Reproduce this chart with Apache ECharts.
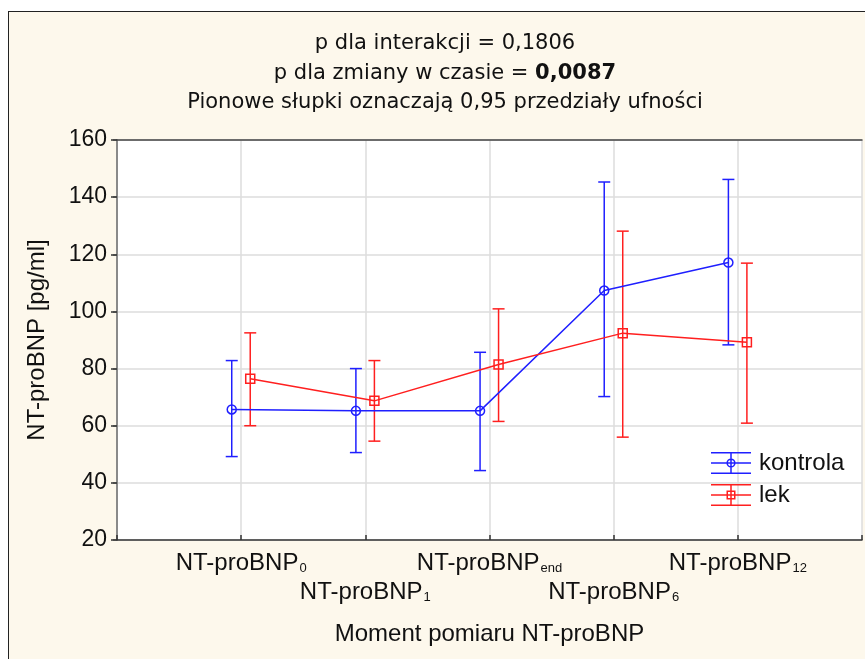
<!DOCTYPE html>
<html>
<head>
<meta charset="utf-8">
<script src="https://cdn.jsdelivr.net/npm/echarts@6/dist/echarts.min.js"></script>
<style>
  html, body { margin: 0; padding: 0; background: #fff; overflow: hidden; }
  .frame {
    position: absolute; left: 8px; top: 11px; width: 870px; height: 660px;
    border-left: 1.5px solid #222; border-top: 1.5px solid #222;
    background: #fdf8ec;
  }
  #chart { position: absolute; left: 0; top: 0; width: 865px; height: 659px; }
</style>
</head>
<body>
<div class="frame"></div>
<div id="chart"></div>
<script>
const subscripts = ['0', '1', 'end', '6', '12']
const kontrolaMean = [65.7, 65.2, 65.2, 107.3, 117.1]
const kontrolaLow = [49.2, 50.6, 44.3, 70.2, 88.3]
const kontrolaHigh = [82.8, 80.0, 85.7, 145.3, 146.2]
const lekMean = [76.4, 68.7, 81.4, 92.4, 89.2]
const lekLow = [60.0, 54.6, 61.5, 56.0, 60.9]
const lekHigh = [92.5, 82.8, 100.9, 128.1, 116.9]

const BLUE = '#1f1fff'
const RED = '#ff1f1f'
const FONT = '"Liberation Sans", Arial, sans-serif'

const chart = echarts.init(document.getElementById('chart'))

const errorBars = (name, low, high, offset, color) => ({
  name: name,
  type: 'custom',
  data: low.map((l, i) => [i + 1 + offset, l, high[i]]),
  encode: { x: 0, y: [1, 2] },
  silent: true,
  z: 3,
  renderItem: (params, api) => {
    const x = api.value(0)
    const lo = api.coord([x, api.value(1)])
    const hi = api.coord([x, api.value(2)])
    const w = 6
    const style = { stroke: color, lineWidth: 1.5, fill: null }
    return {
      type: 'group',
      children: [
        { type: 'line', shape: { x1: lo[0], y1: lo[1], x2: hi[0], y2: hi[1] }, style },
        { type: 'line', shape: { x1: hi[0] - w, y1: hi[1], x2: hi[0] + w, y2: hi[1] }, style },
        { type: 'line', shape: { x1: lo[0] - w, y1: lo[1], x2: lo[0] + w, y2: lo[1] }, style }
      ]
    }
  }
})

const meanLine = (name, mean, offset, color, symbol) => ({
  name: name,
  type: 'line',
  data: mean.map((v, i) => [i + 1 + offset, v]),
  symbol: symbol,
  symbolSize: 9,
  z: 4,
  lineStyle: { color: color, width: 1.5 },
  itemStyle: { color: 'rgba(0,0,0,0)', borderColor: color, borderWidth: 1.5 },
  emphasis: { disabled: true }
})

// legend icons: error bar with marker
const bars = 'M0,0 h40 v1.5 h-40 z M0,20.5 h40 v1.5 h-40 z M0,10.25 h40 v1.5 h-40 z M19.25,0 h1.5 v22 h-1.5 z '
const circleIcon = 'path://' + bars +
  'M24.6,11 A4.6,4.6 0 1 1 15.4,11 A4.6,4.6 0 1 1 24.6,11 Z M23.1,11 A3.1,3.1 0 1 0 16.9,11 A3.1,3.1 0 1 0 23.1,11 Z'
const squareIcon = 'path://' + bars +
  'M15.5,6.5 h9 v9 h-9 z M17,8 v6 h6 v-6 z'

chart.setOption({
  animation: false,
  textStyle: { fontFamily: FONT },
  title: {
    text: 'p dla interakcji = 0,1806\np dla zmiany w czasie = {b|0,0087}\nPionowe słupki oznaczają 0,95 przedziały ufności',
    left: 445,
    top: 29,
    padding: 0,
    textAlign: 'center',
    textStyle: {
      fontFamily: '"DejaVu Sans", sans-serif',
      fontSize: 21,
      fontWeight: 'normal',
      color: '#111',
      lineHeight: 29.5,
      rich: { b: { fontWeight: 'bold', fontFamily: '"DejaVu Sans", sans-serif', fontSize: 21, color: '#111' } }
    }
  },
  legend: {
    left: 706,
    top: 446,
    orient: 'vertical',
    itemWidth: 40,
    itemHeight: 22,
    itemGap: 8,
    selectedMode: false,
    textStyle: { fontFamily: FONT, fontSize: 24, color: '#111', padding: [0, 0, 0, 3] },
    data: [
      { name: 'kontrola', icon: circleIcon, itemStyle: { color: BLUE, borderWidth: 0 } },
      { name: 'lek', icon: squareIcon, itemStyle: { color: RED, borderWidth: 0 } }
    ]
  },
  grid: { left: 117, right: 1, top: 140, bottom: 119, show: true, backgroundColor: '#fff', borderWidth: 0 },
  xAxis: [{
    type: 'value',
    min: 0,
    max: 6,
    interval: 1,
    name: 'Moment pomiaru NT-proBNP',
    nameLocation: 'middle',
    nameGap: 82,
    nameTextStyle: { fontFamily: FONT, fontSize: 24, color: '#111' },
    axisLine: { lineStyle: { color: '#333', width: 1.5 } },
    axisTick: { inside: true, length: 5, lineStyle: { color: '#333', width: 1.5 } },
    splitLine: { show: true, lineStyle: { color: '#dcdcdc', width: 1.5 } },
    axisLabel: {
      margin: 9,
      showMinLabel: true,
      showMaxLabel: true,
      lineHeight: 29,
      fontSize: 24,
      formatter: (v) => {
        const i = Math.round(v) - 1
        if (i < 0 || i >= subscripts.length) return ''
        const txt = '{m|NT-proBNP}{s|' + subscripts[i] + '}'
        return i % 2 === 1 ? '{m|}\n' + txt : txt
      },
      rich: {
        m: { fontFamily: FONT, fontSize: 24, color: '#111', lineHeight: 29 },
        s: { fontFamily: FONT, fontSize: 13, color: '#111', lineHeight: 12, verticalAlign: 'bottom', padding: [0, 0, 3, 1] }
      }
    }
  }, {
    type: 'value',
    position: 'top',
    min: 0,
    max: 6,
    interval: 1,
    axisLine: { show: true, lineStyle: { color: '#444', width: 1.5 } },
    axisTick: { show: false },
    axisLabel: { show: false },
    splitLine: { show: false }
  }],
  yAxis: [{
    type: 'value',
    min: 20,
    max: 160,
    interval: 20,
    name: 'NT-proBNP [pg/ml]',
    nameLocation: 'middle',
    nameGap: 68,
    nameTextStyle: { fontFamily: FONT, fontSize: 24, color: '#111' },
    axisLine: { show: true, lineStyle: { color: '#333', width: 1.5 } },
    axisTick: { show: true, length: 6, lineStyle: { color: '#333', width: 1.5 } },
    axisLabel: { fontFamily: FONT, fontSize: 23, color: '#111', margin: 10 },
    splitLine: { show: true, lineStyle: { color: '#dcdcdc', width: 1.5 } }
  }, {
    type: 'value',
    position: 'right',
    min: 20,
    max: 160,
    interval: 20,
    axisLine: { show: true, lineStyle: { color: '#999', width: 1.5 } },
    axisTick: { show: true, inside: true, length: 4, lineStyle: { color: '#444', width: 1.5 } },
    axisLabel: { show: false },
    splitLine: { show: false }
  }],
  series: [
    errorBars('kontrola', kontrolaLow, kontrolaHigh, -0.076, BLUE),
    errorBars('lek', lekLow, lekHigh, 0.073, RED),
    meanLine('kontrola', kontrolaMean, -0.076, BLUE, 'circle'),
    meanLine('lek', lekMean, 0.073, RED, 'rect')
  ]
})
</script>
</body>
</html>
